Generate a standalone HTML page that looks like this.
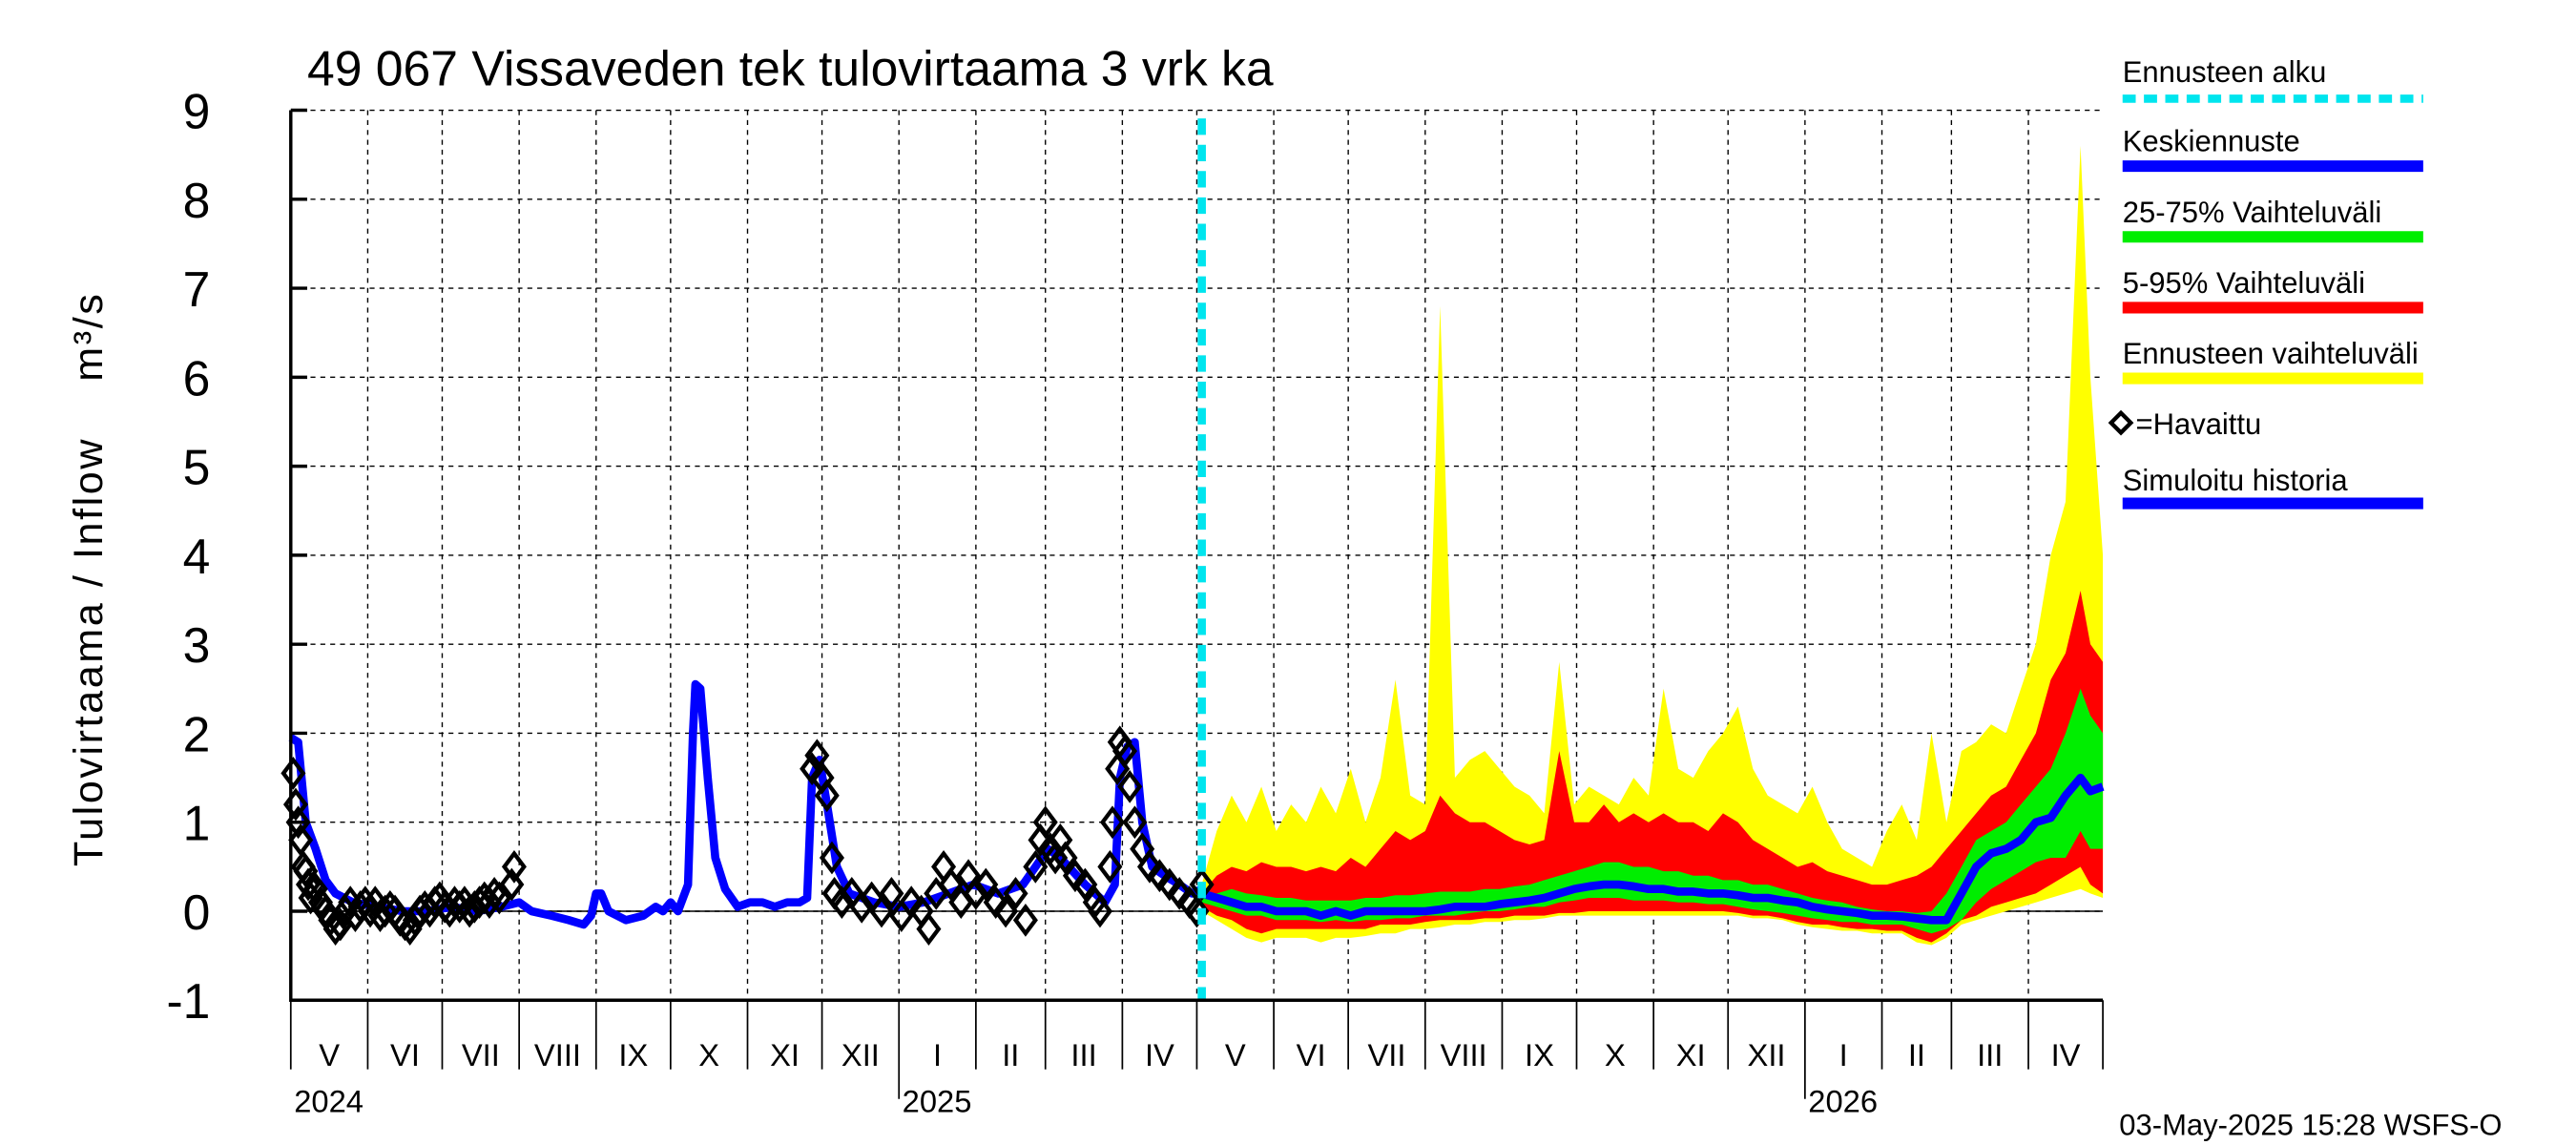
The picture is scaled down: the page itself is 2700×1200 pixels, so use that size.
<!DOCTYPE html>
<html><head><meta charset="utf-8"><style>
html,body{margin:0;padding:0;background:#fff;}
svg{display:block;font-family:"Liberation Sans",sans-serif;}
</style></head>
<body>
<svg id="chart" width="2700" height="1200" viewBox="0 0 1568 696" preserveAspectRatio="none" xmlns="http://www.w3.org/2000/svg">
<rect x="0" y="0" width="1568" height="696" fill="#fff"/>
<text x="187" y="52" font-size="30">49 067 Vissaveden tek tulovirtaama 3 vrk ka</text>
<text transform="translate(62,352) rotate(-90)" text-anchor="middle" font-size="25" letter-spacing="1.5" xml:space="preserve">Tulovirtaama / Inflow    m³/s</text>
<g id="grid"></g>
<g id="bands"></g>
<g id="lines"></g>
<g id="axes"></g>
<g id="legend">
 <text x="1292" y="50" font-size="18">Ennusteen alku</text>
 <line x1="1292" y1="60" x2="1475" y2="60" stroke="#00e5ee" stroke-width="5" stroke-dasharray="8,5"/>
 <text x="1292" y="92" font-size="18">Keskiennuste</text>
 <line x1="1292" y1="101" x2="1475" y2="101" stroke="#0000ff" stroke-width="7"/>
 <text x="1292" y="135" font-size="18">25-75% Vaihteluväli</text>
 <line x1="1292" y1="144" x2="1475" y2="144" stroke="#00ee00" stroke-width="7"/>
 <text x="1292" y="178" font-size="18">5-95% Vaihteluväli</text>
 <line x1="1292" y1="187" x2="1475" y2="187" stroke="#ff0000" stroke-width="7"/>
 <text x="1292" y="221" font-size="18">Ennusteen vaihteluväli</text>
 <line x1="1292" y1="230" x2="1475" y2="230" stroke="#ffff00" stroke-width="7"/>
 <path d="M1291 251 L1297 257 L1291 263 L1285 257 Z" fill="none" stroke="#000" stroke-width="2.5"/>
 <text x="1300" y="264" font-size="18">=Havaittu</text>
 <text x="1292" y="298" font-size="18">Simuloitu historia</text>
 <line x1="1292" y1="306" x2="1475" y2="306" stroke="#0000ff" stroke-width="7"/>
</g>
<text x="1290" y="690" font-size="18">03-May-2025 15:28 WSFS-O</text>
</svg>
<script>
const yTicks = [-1,0,1,2,3,4,5,6,7,8,9];
const monthLabels = ["V","VI","VII","VIII","IX","X","XI","XII","I","II","III","IV","V","VI","VII","VIII","IX","X","XI","XII","I","II","III","IV"];
const monthStarts = [0,31,61,92,123,153,184,214,245,276,304,335,365,396,426,457,488,518,549,579,610,641,669,700,730];
const yearLabels = ["2024","2025","2026"];
const yearDays = [0,245,610];
const forecastStart = 367;

const simDays = [0,3,6,10,14,18,25,35,45,55,65,75,85,92,97,105,112,118,121,123,125,128,135,142,147,150,153,156,160,162,163,165,168,171,175,180,185,190,195,200,205,208,210,213,216,220,225,235,245,255,265,275,285,295,300,305,310,320,328,332,334,337,340,343,347,352,358,363,367];
const simVals = [1.95,1.9,1.0,0.7,0.35,0.2,0.1,0.05,0.0,0.0,0.05,0.0,0.05,0.1,0.0,-0.05,-0.1,-0.15,-0.05,0.2,0.2,0.0,-0.1,-0.05,0.05,0.0,0.1,0.0,0.3,2.0,2.55,2.5,1.5,0.6,0.25,0.05,0.1,0.1,0.05,0.1,0.1,0.15,1.5,1.7,1.2,0.5,0.2,0.1,0.05,0.1,0.2,0.3,0.2,0.3,0.5,0.7,0.6,0.3,0.1,0.3,1.5,1.85,1.9,1.0,0.5,0.4,0.3,0.2,0.25];

const obsDays = [1,2,3,4,5,6,7,8,10,12,14,16,18,20,22,24,26,28,30,32,34,36,38,40,42,44,46,48,50,52,54,56,58,60,62,64,66,68,70,72,74,76,78,80,82,84,89,90,210,212,214,216,218,219,222,226,230,234,238,242,246,250,254,257,260,263,266,270,273,276,280,284,288,292,296,300,302,304,306,308,310,312,316,320,324,326,330,331,333,334,336,338,340,343,346,350,354,358,362,365,367];
const obsVals = [1.55,1.2,1.0,0.8,0.5,0.45,0.3,0.15,0.25,0.1,0.0,-0.1,-0.2,-0.15,0.0,0.1,-0.05,0.05,0.1,0.0,0.1,-0.05,0.0,0.05,0.0,-0.1,-0.15,-0.2,-0.1,0.0,0.05,0.0,0.1,0.15,0.05,0.0,0.1,0.05,0.1,0.0,0.05,0.1,0.15,0.1,0.2,0.15,0.3,0.5,1.6,1.75,1.5,1.3,0.6,0.2,0.1,0.2,0.05,0.15,0.0,0.2,-0.05,0.1,0.0,-0.2,0.2,0.5,0.3,0.1,0.4,0.2,0.3,0.1,0.0,0.2,-0.1,0.5,0.8,1.0,0.7,0.6,0.8,0.6,0.4,0.3,0.1,0.0,0.5,1.0,1.6,1.9,1.8,1.4,1.0,0.7,0.5,0.4,0.3,0.2,0.1,0.0,0.3];

const fcDays = [367,373,379,385,391,397,403,409,415,421,427,433,439,445,451,457,463,469,475,481,487,493,499,505,511,517,523,529,535,541,547,553,559,565,571,577,583,589,595,601,607,613,619,625,631,637,643,649,655,661,667,673,679,685,691,697,703,709,715,721,725,730];
const fcMax = [0.3,0.9,1.3,1.0,1.4,0.9,1.2,1.0,1.4,1.1, 1.6,1.0,1.5,2.6,1.3,1.2,6.8,1.5,1.7,1.8, 1.6,1.4,1.3,1.1,2.8,1.2,1.4,1.3,1.2,1.5, 1.3,2.5,1.6,1.5,1.8,2.0,2.3,1.6,1.3,1.2, 1.1,1.4,1.0,0.7,0.6,0.5,0.9,1.2,0.8,2.0, 1.0,1.8,1.9,2.1,2.0,2.5,3.0,4.0,4.6,8.6, 6.0,4.0];
const fcP95 = [0.2,0.4,0.5,0.45,0.55,0.5,0.5,0.45,0.5,0.45, 0.6,0.5,0.7,0.9,0.8,0.9,1.3,1.1,1.0,1.0, 0.9,0.8,0.75,0.8,1.8,1.0,1.0,1.2,1.0,1.1, 1.0,1.1,1.0,1.0,0.9,1.1,1.0,0.8,0.7,0.6, 0.5,0.55,0.45,0.4,0.35,0.3,0.3,0.35,0.4,0.5, 0.7,0.9,1.1,1.3,1.4,1.7,2.0,2.6,2.9,3.6, 3.0,2.8];
const fcP75 = [0.15,0.2,0.25,0.2,0.18,0.15,0.15,0.12,0.12,0.12, 0.12,0.15,0.15,0.18,0.18,0.2,0.22,0.22,0.22,0.25, 0.25,0.28,0.3,0.35,0.4,0.45,0.5,0.55,0.55,0.5, 0.5,0.45,0.45,0.4,0.4,0.35,0.35,0.3,0.3,0.25, 0.2,0.15,0.12,0.1,0.05,0.02,0.0,0.0,-0.02,0.0, 0.2,0.5,0.8,0.9,1.0,1.2,1.4,1.6,2.0,2.5, 2.2,2.0];
const fcMed = [0.2,0.15,0.1,0.05,0.05,0.0,0.0,0.0,-0.05,0.0, -0.05,0.0,0.0,0.0,0.0,0.0,0.02,0.05,0.05,0.05, 0.08,0.1,0.12,0.15,0.2,0.25,0.28,0.3,0.3,0.28, 0.25,0.25,0.22,0.22,0.2,0.2,0.18,0.15,0.15,0.12, 0.1,0.05,0.02,0.0,-0.02,-0.05,-0.05,-0.06,-0.08,-0.1, -0.1,0.2,0.5,0.65,0.7,0.8,1.0,1.05,1.3,1.5, 1.35,1.4];
const fcP25 = [0.1,0.05,0.0,-0.05,-0.05,-0.1,-0.1,-0.1,-0.12,-0.1, -0.12,-0.1,-0.1,-0.08,-0.08,-0.05,-0.05,-0.05,-0.02,0.0, 0.0,0.02,0.05,0.05,0.1,0.12,0.15,0.15,0.15,0.12, 0.12,0.12,0.1,0.1,0.08,0.08,0.05,0.02,0.0,-0.02, -0.05,-0.08,-0.1,-0.12,-0.12,-0.15,-0.15,-0.15,-0.2,-0.25, -0.2,-0.1,0.1,0.25,0.35,0.45,0.55,0.6,0.6,0.9, 0.7,0.7];
const fcP05 = [0.05,-0.05,-0.1,-0.2,-0.25,-0.2,-0.2,-0.2,-0.2,-0.2, -0.2,-0.2,-0.15,-0.15,-0.15,-0.12,-0.1,-0.1,-0.1,-0.08, -0.08,-0.05,-0.05,-0.05,-0.02,-0.02,0.0,0.0,0.0,0.0, 0.0,0.0,0.0,0.0,0.0,0.0,-0.02,-0.05,-0.05,-0.08, -0.12,-0.15,-0.15,-0.18,-0.2,-0.2,-0.22,-0.22,-0.3,-0.35, -0.25,-0.1,-0.05,0.05,0.1,0.15,0.2,0.3,0.4,0.5, 0.3,0.2];
const fcMin = [0.0,-0.1,-0.2,-0.3,-0.35,-0.3,-0.3,-0.3,-0.35,-0.3, -0.3,-0.28,-0.25,-0.25,-0.2,-0.2,-0.18,-0.15,-0.15,-0.12, -0.12,-0.1,-0.1,-0.08,-0.05,-0.05,-0.05,-0.05,-0.05,-0.05, -0.05,-0.05,-0.05,-0.05,-0.05,-0.05,-0.05,-0.08,-0.08,-0.1, -0.15,-0.18,-0.2,-0.22,-0.22,-0.25,-0.25,-0.25,-0.35,-0.38, -0.3,-0.15,-0.1,-0.05,0.0,0.05,0.1,0.15,0.2,0.25, 0.2,0.15];

const NS = "http://www.w3.org/2000/svg";
const L = 177, R = 1280, T = 67, B = 608;
const xS = d => L + d * (R - L) / 730;
const yS = v => B - (v + 1) * (B - T) / 10;
function mk(tag, attrs, parent){ const e = document.createElementNS(NS, tag); for (const k in attrs) e.setAttribute(k, attrs[k]); parent.appendChild(e); return e; }
const grid = document.getElementById('grid'), bands = document.getElementById('bands'), lines = document.getElementById('lines'), axes = document.getElementById('axes');

yTicks.forEach(v => {
  const g = mk('line', {x1:L, x2:R, y1:yS(v), y2:yS(v), stroke:'#000', 'stroke-width':0.8, 'stroke-dasharray':'3,3'}, grid);
  
  
  const tk = mk('line', {x1:L, x2:L+10, y1:yS(v), y2:yS(v), stroke:'#000', 'stroke-width':2}, axes);
  
  
  const t = mk('text', {x:128, y:yS(v)+11, 'text-anchor':'end', 'font-size':30}, axes);
  t.textContent = v;
  
  
});
monthStarts.forEach((d, i) => {
  if (i > 0 && i < monthStarts.length - 1) {
    const g = mk('line', {x1:xS(d), x2:xS(d), y1:T, y2:B, stroke:'#000', 'stroke-width':0.8, 'stroke-dasharray':'3,3'}, grid);
    
    
  }
  const isYear = yearDays.includes(d) && d > 0;
  const tk = mk('line', {x1:xS(d), x2:xS(d), y1:B, y2:B + (isYear ? 60 : 42), stroke:'#000', 'stroke-width':1}, axes);
  
  
  if (i < monthLabels.length) {
    const t = mk('text', {x:(xS(d)+xS(monthStarts[i+1]))/2, y:648, 'text-anchor':'middle', 'font-size':19}, axes);
    t.textContent = monthLabels[i];
    
    
  }
});
yearLabels.forEach((y, i) => {
  const t = mk('text', {x:xS(yearDays[i]) + 2, y:676, 'font-size':19}, axes);
  t.textContent = y;
  
  
});
const ax = mk('path', {d:`M${L} ${T} L${L} ${B} L${R} ${B}`, fill:'none', stroke:'#000', 'stroke-width':2}, axes);


const z = mk('line', {x1:L, x2:R, y1:yS(0), y2:yS(0), stroke:'#000', 'stroke-width':0.8}, grid);



function band(up, lo, color, name){
  let d = 'M' + fcDays.map((x,i) => xS(x).toFixed(1) + ' ' + yS(up[i]).toFixed(1)).join(' L');
  for (let i = fcDays.length - 1; i >= 0; i--) d += ' L' + xS(fcDays[i]).toFixed(1) + ' ' + yS(lo[i]).toFixed(1);
  const p = mk('path', {d: d + ' Z', fill: color}, bands);
  
  
}
band(fcMax, fcMin, '#ffff00', 'forecast-range-band');
band(fcP95, fcP05, '#ff0000', 'band-5-95');
band(fcP75, fcP25, '#00ee00', 'band-25-75');

function poly(xs, ys, color, w, name){
  const p = mk('polyline', {points: xs.map((x,i) => xS(x).toFixed(1) + ',' + yS(ys[i]).toFixed(1)).join(' '), fill:'none', stroke:color, 'stroke-width':w, 'stroke-linejoin':'round'}, lines);
  
  
}
poly(simDays, simVals, '#0000ff', 5, 'simulated-history-line');
poly(fcDays, fcMed, '#0000ff', 5, 'median-forecast-line');
obsDays.forEach((d, i) => {
  const cx = xS(d), cy = yS(obsVals[i]);
  const p = mk('path', {d:`M${cx} ${cy-8} L${cx+6} ${cy} L${cx} ${cy+8} L${cx-6} ${cy} Z`, fill:'none', stroke:'#000', 'stroke-width':2.5}, lines);
  
  
});
const fs = mk('line', {x1:xS(forecastStart), x2:xS(forecastStart), y1:T+5, y2:B, stroke:'#00e5ee', 'stroke-width':5, 'stroke-dasharray':'10,6'}, lines);


</script>
</body></html>
